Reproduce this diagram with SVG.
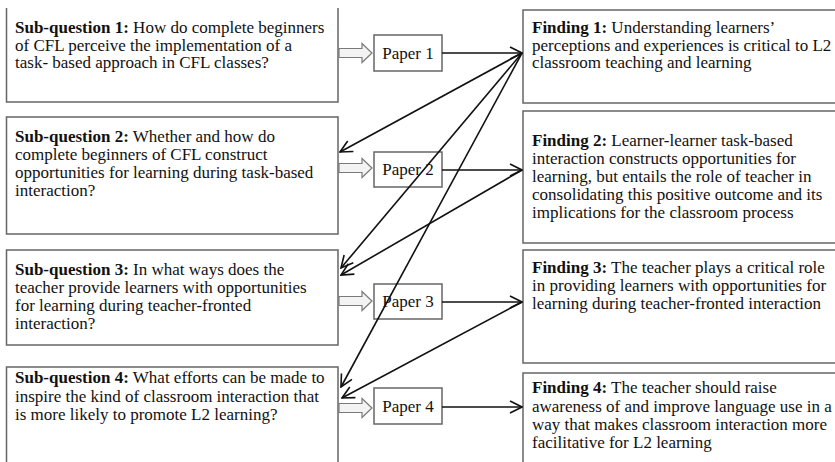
<svg xmlns="http://www.w3.org/2000/svg" width="835" height="462" viewBox="0 0 835 462">
<style>
text{font-family:"Liberation Serif","Times New Roman",serif;font-size:17px;fill:#111}
.b{font-weight:bold}
.box{fill:#fff;stroke:#666;stroke-width:1.5}
.hollow{fill:#f3f3f3;stroke:#7a7a7a;stroke-width:1.2}
.con{fill:none;stroke:#111;stroke-width:1.6;marker-end:url(#ah)}
</style>
<defs>
<marker id="ah" viewBox="0 0 14 14" markerWidth="14" markerHeight="14" refX="13" refY="7" orient="auto" markerUnits="userSpaceOnUse">
<path d="M1,1 L13,7 L1,13" fill="none" stroke="#111" stroke-width="1.6"/>
</marker>
<path id="harrow" d="M0,-4.5 H23 V-9.5 L33,0 L23,9.5 V4.5 H0 Z"/>
</defs>
<rect width="835" height="462" fill="#fff"/>

<g id="sq1">
<path class="box" d="M6.5,8 V102 H338 V8"/>
<text x="15" y="33"><tspan class="b">Sub-question 1:</tspan> How do complete beginners</text>
<text x="15" y="50.5">of CFL perceive the implementation of a</text>
<text x="15" y="68">task- based approach in CFL classes?</text>
</g>
<g id="sq2">
<rect class="box" x="6.5" y="117" width="331.5" height="117"/>
<text x="15" y="142"><tspan class="b">Sub-question 2:</tspan> Whether and how do</text>
<text x="15" y="160">complete beginners of CFL construct</text>
<text x="15" y="178">opportunities for learning during task-based</text>
<text x="15" y="196">interaction?</text>
</g>
<g id="sq3">
<rect class="box" x="6.5" y="250" width="331.5" height="95"/>
<text x="15" y="275"><tspan class="b">Sub-question 3:</tspan> In what ways does the</text>
<text x="15" y="293">teacher provide learners with opportunities</text>
<text x="15" y="311">for learning during teacher-fronted</text>
<text x="15" y="329">interaction?</text>
</g>
<g id="sq4">
<rect class="box" x="6.5" y="367" width="331.5" height="110"/>
<text x="15" y="383"><tspan class="b">Sub-question 4:</tspan> What efforts can be made to</text>
<text x="15" y="401.5">inspire the kind of classroom interaction that</text>
<text x="15" y="420">is more likely to promote L2 learning?</text>
</g>

<g id="paper1">
<use href="#harrow" class="hollow" x="339" y="53"/>
<rect class="box" x="374" y="35" width="68" height="36"/>
<text x="408" y="59" text-anchor="middle">Paper 1</text>
</g>
<g id="paper2">
<use href="#harrow" class="hollow" x="339" y="168"/>
<rect class="box" x="374" y="152" width="68" height="35"/>
<text x="408" y="175" text-anchor="middle">Paper 2</text>
</g>
<g id="paper3">
<use href="#harrow" class="hollow" x="339" y="301"/>
<rect class="box" x="374" y="284" width="68" height="35"/>
<text x="408" y="307" text-anchor="middle">Paper 3</text>
</g>
<g id="paper4">
<use href="#harrow" class="hollow" x="339" y="408"/>
<rect class="box" x="374" y="388" width="68" height="36"/>
<text x="408" y="412" text-anchor="middle">Paper 4</text>
</g>

<g id="f1">
<rect class="box" x="523" y="10" width="315" height="93"/>
<text x="532" y="33"><tspan class="b">Finding 1:</tspan> Understanding learners’</text>
<text x="532" y="50.5">perceptions and experiences is critical to L2</text>
<text x="532" y="68">classroom teaching and learning</text>
</g>
<g id="f2">
<rect class="box" x="523" y="111" width="315" height="132"/>
<text x="532" y="146"><tspan class="b">Finding 2:</tspan> Learner-learner task-based</text>
<text x="532" y="164">interaction constructs opportunities for</text>
<text x="532" y="182">learning, but entails the role of teacher in</text>
<text x="532" y="200">consolidating this positive outcome and its</text>
<text x="532" y="218">implications for the classroom process</text>
</g>
<g id="f3">
<rect class="box" x="523" y="250" width="315" height="113"/>
<text x="532" y="273"><tspan class="b">Finding 3:</tspan> The teacher plays a critical role</text>
<text x="532" y="291">in providing learners with opportunities for</text>
<text x="532" y="309">learning during teacher-fronted interaction</text>
</g>
<g id="f4">
<rect class="box" x="523" y="373" width="315" height="110"/>
<text x="532" y="393"><tspan class="b">Finding 4:</tspan> The teacher should raise</text>
<text x="532" y="411.5">awareness of and improve language use in a</text>
<text x="532" y="430">way that makes classroom interaction more</text>
<text x="532" y="448">facilitative for L2 learning</text>
</g>

<g id="connectors">
<line class="con" x1="442" y1="53" x2="522" y2="53"/>
<line class="con" x1="442" y1="170" x2="522" y2="170"/>
<line class="con" x1="442" y1="302" x2="522" y2="302"/>
<line class="con" x1="442" y1="407" x2="522" y2="407"/>
<line class="con" x1="522" y1="53" x2="340" y2="152"/>
<line class="con" x1="522" y1="53" x2="341" y2="268"/>
<line class="con" x1="522" y1="53" x2="341" y2="387"/>
<line class="con" x1="522" y1="170" x2="341" y2="275"/>
<line class="con" x1="522" y1="302" x2="342" y2="398"/>
</g>
</svg>
